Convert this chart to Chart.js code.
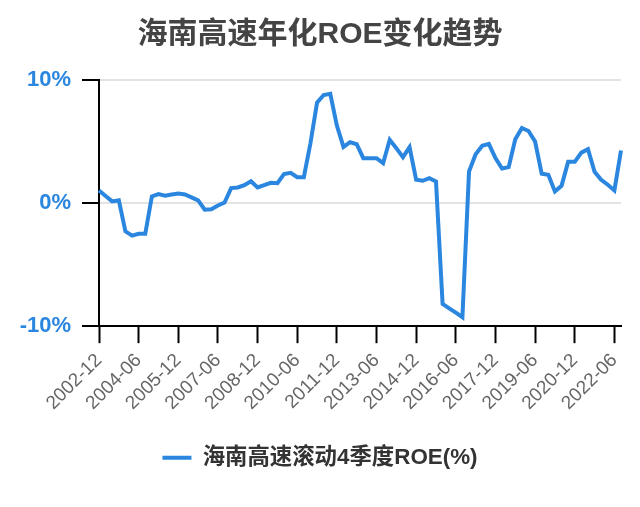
<!DOCTYPE html>
<html>
<head>
<meta charset="utf-8">
<script src="https://cdn.jsdelivr.net/npm/chart.js@4.4.1/dist/chart.umd.min.js"></script>
<style>
  html, body { margin: 0; padding: 0; background: #fff; }
  #wrap { width: 640px; height: 507px; }
</style>
</head>
<body>
<div id="wrap"><canvas id="roeChart" width="640" height="507"></canvas></div>
<script>
// 季度标签 (2002-12 ~ 2022-09)
const quarters = [
  '2002-12',
  '2003-03', '2003-06', '2003-09', '2003-12',
  '2004-03', '2004-06', '2004-09', '2004-12',
  '2005-03', '2005-06', '2005-09', '2005-12',
  '2006-03', '2006-06', '2006-09', '2006-12',
  '2007-03', '2007-06', '2007-09', '2007-12',
  '2008-03', '2008-06', '2008-09', '2008-12',
  '2009-03', '2009-06', '2009-09', '2009-12',
  '2010-03', '2010-06', '2010-09', '2010-12',
  '2011-03', '2011-06', '2011-09', '2011-12',
  '2012-03', '2012-06', '2012-09', '2012-12',
  '2013-03', '2013-06', '2013-09', '2013-12',
  '2014-03', '2014-06', '2014-09', '2014-12',
  '2015-03', '2015-06', '2015-09', '2015-12',
  '2016-03', '2016-06', '2016-09', '2016-12',
  '2017-03', '2017-06', '2017-09', '2017-12',
  '2018-03', '2018-06', '2018-09', '2018-12',
  '2019-03', '2019-06', '2019-09', '2019-12',
  '2020-03', '2020-06', '2020-09', '2020-12',
  '2021-03', '2021-06', '2021-09', '2021-12',
  '2022-03', '2022-06', '2022-09'
];

// 滚动4季度ROE (%)
const roeValues = [
  1.03, 0.58, 0.14, 0.22, -2.30, -2.65, -2.50, -2.50,
  0.54, 0.73, 0.60, 0.70, 0.78, 0.70, 0.46, 0.22,
  -0.54, -0.50, -0.20, 0.05, 1.22, 1.27, 1.46, 1.78,
  1.27, 1.46, 1.65, 1.62, 2.35, 2.46, 2.10, 2.10,
  4.86, 8.16, 8.78, 8.88, 6.30, 4.56, 4.95, 4.78,
  3.65, 3.65, 3.65, 3.24, 5.14, 4.46, 3.73, 4.54,
  1.89, 1.81, 2.03, 1.76, -8.19, -8.55, -8.90, -9.27,
  2.57, 3.97, 4.65, 4.81, 3.65, 2.81, 2.92, 5.19,
  6.10, 5.86, 5.00, 2.38, 2.30, 0.95, 1.40, 3.35,
  3.35, 4.10, 4.38, 2.54, 1.89, 1.49, 1.03, 4.27
];

const yTicks = [-10, 0, 10];
const labelEvery = 6;

const BLUE = '#2a86df';
const FONT = "'Liberation Sans', 'Noto Sans CJK SC', sans-serif";

const ctx = document.getElementById('roeChart').getContext('2d');
const roeChart = new Chart(ctx, {
  type: 'line',
  data: {
    labels: quarters,
    datasets: [{
      label: '海南高速滚动4季度ROE(%)',
      data: roeValues,
      borderColor: BLUE,
      backgroundColor: BLUE,
      borderWidth: 4,
      pointRadius: 0,
      pointStyle: 'line',
      tension: 0,
      fill: false
    }]
  },
  options: {
    responsive: false,
    animation: false,
    devicePixelRatio: 1,
    layout: { padding: { left: 19, right: 19, top: 0, bottom: 28 } },
    plugins: {
      title: {
        display: true,
        text: '海南高速年化ROE变化趋势',
        color: '#444',
        font: { family: FONT, size: 30, weight: 'bold' },
        padding: { top: 17, bottom: 27 }
      },
      legend: {
        position: 'bottom',
        labels: {
          usePointStyle: true,
          pointStyle: 'line',
          pointStyleWidth: 29,
          color: '#333',
          font: { family: FONT, size: 22.4, weight: 'bold' },
          padding: 26
        }
      },
      tooltip: { enabled: false }
    },
    scales: {
      x: {
        grid: {
          drawOnChartArea: false,
          tickLength: 17,
          tickColor: '#000',
          tickWidth: 2
        },
        border: { color: '#000', width: 2 },
        ticks: {
          autoSkip: false,
          maxRotation: 45,
          minRotation: 45,
          padding: 6,
          color: '#666',
          font: { family: FONT, size: 19 },
          callback: function (val, idx) {
            return idx % labelEvery === 0 ? this.getLabelForValue(val) : null;
          }
        }
      },
      y: {
        min: yTicks[0],
        max: yTicks[yTicks.length - 1],
        afterBuildTicks: function (scale) {
          scale.ticks = yTicks.map(v => ({ value: v }));
        },
        afterFit: function (scale) {
          scale.width = 80;
        },
        grid: {
          color: '#e3e3e3',
          lineWidth: 2,
          tickLength: 17,
          tickColor: '#000',
          tickWidth: 2
        },
        border: { color: '#000', width: 2 },
        ticks: {
          padding: 11,
          color: BLUE,
          font: { family: FONT, size: 22, weight: 'bold' },
          callback: v => v + '%'
        }
      }
    }
  }
});
</script>
</body>
</html>
